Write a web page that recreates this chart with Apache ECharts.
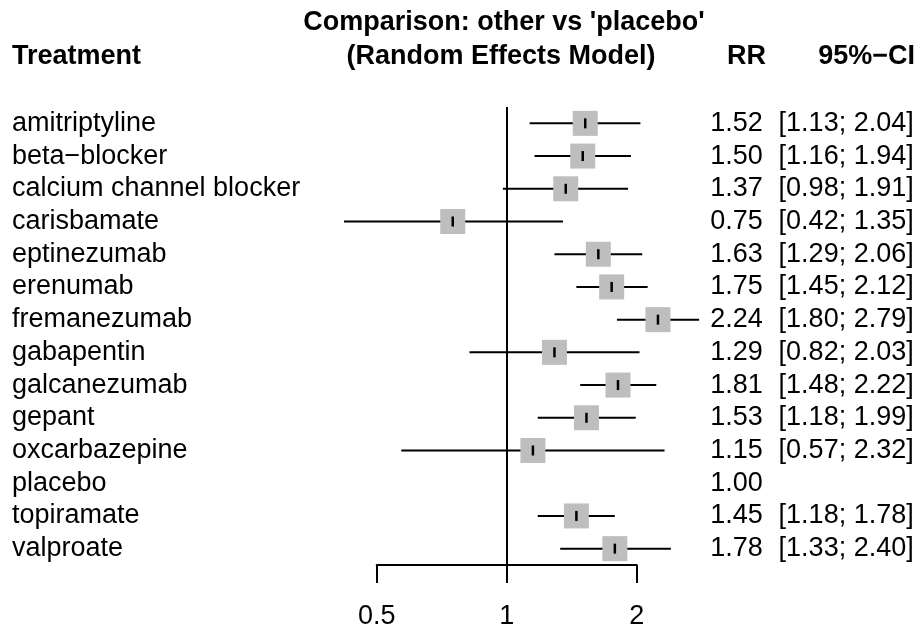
<!DOCTYPE html>
<html><head><meta charset="utf-8">
<script src="https://cdn.jsdelivr.net/npm/echarts@6/dist/echarts.min.js"></script>
<style>html,body{margin:0;padding:0;background:#fff}#c{width:919px;height:624px}</style>
</head><body><div id="c"></div>
<script>
const treatments = ['amitriptyline','beta\u2212blocker','calcium channel blocker','carisbamate','eptinezumab','erenumab','fremanezumab','gabapentin','galcanezumab','gepant','oxcarbazepine','placebo','topiramate','valproate'];
const rr    = [1.52, 1.50, 1.37, 0.75, 1.63, 1.75, 2.24, 1.29, 1.81, 1.53, 1.15, 1.00, 1.45, 1.78];
const lower = [1.13, 1.16, 0.98, 0.42, 1.29, 1.45, 1.80, 0.82, 1.48, 1.18, 0.57, null, 1.18, 1.33];
const upper = [2.04, 1.94, 1.91, 1.35, 2.06, 2.12, 2.79, 2.03, 2.22, 1.99, 2.32, null, 1.78, 2.40];
const xTicks = [0.5, 1, 2];
const refValue = 1;

const FONT = 'Liberation Sans, Arial, sans-serif';
const FS = 27;
const rrLabels = rr.map(v => v.toFixed(2));
const ciLabels = lower.map((l, i) => l == null ? '' : '[' + l.toFixed(2) + '; ' + upper[i].toFixed(2) + ']');
const seriesData = treatments.map((t, i) => [i, rr[i], lower[i] == null ? NaN : lower[i], upper[i] == null ? NaN : upper[i]]);

const chart = echarts.init(document.getElementById('c'), null, {renderer: 'canvas'});
const hdr = (text, x, y, align) => ({type: 'text', x: x, y: y, style: {text: text, fill: '#000', font: 'bold ' + FS + 'px ' + FONT, textAlign: align, textVerticalAlign: 'middle'}});
const catAxis = (data, pos, margin, align) => ({
  type: 'category', data: data, inverse: true, position: pos,
  axisLine: {show: false}, axisTick: {show: false}, splitLine: {show: false},
  axisLabel: {interval: 0, align: align, margin: margin, fontSize: FS, fontFamily: FONT, color: '#000'}
});
chart.setOption({
  animation: false,
  backgroundColor: '#fff',
  grid: {left: 376.7, right: 282.3, top: 107, bottom: 59, outerBoundsMode: 'none', containLabel: false},
  xAxis: {
    type: 'log', logBase: 2, min: 0.5, max: 2,
    axisLine: {show: true, lineStyle: {color: '#000', width: 2}},
    axisTick: {show: true, length: 18, customValues: xTicks, lineStyle: {color: '#000', width: 2}},
    axisLabel: {customValues: xTicks, margin: 38, fontSize: FS, fontFamily: FONT, color: '#000', formatter: v => String(+(+v).toFixed(2))},
    splitLine: {show: false}
  },
  yAxis: [
    catAxis(treatments, 'left', 364.7, 'left'),
    catAxis(rrLabels, 'right', 126, 'right'),
    catAxis(ciLabels, 'right', 277, 'right')
  ],
  graphic: [
    hdr("Comparison: other vs 'placebo'", 504, 23, 'center'),
    hdr('(Random Effects Model)', 501, 57, 'center'),
    hdr('Treatment', 12, 57, 'left'),
    hdr('RR', 766, 57, 'right'),
    hdr('95%\u2212CI', 915, 57, 'right')
  ],
  series: [{
    type: 'custom',
    clip: false,
    yAxisIndex: 0,
    data: seriesData,
    encode: {x: [1, 2, 3], y: 0},
    renderItem: function (params, api) {
      const idx = api.value(0);
      const lo = api.value(2), hi = api.value(3), est = api.value(1);
      const children = [];
      if (isNaN(lo) || isNaN(hi)) return {type: 'group', children: children};
      const p = api.coord([est, idx]);
      const xl = api.coord([lo, idx])[0];
      const xh = api.coord([hi, idx])[0];
      const y = p[1];
      children.push({type: 'line', shape: {x1: xl, y1: y, x2: xh, y2: y}, style: {stroke: '#000', lineWidth: 2}});
      const s = 25;
      children.push({type: 'rect', shape: {x: p[0] - s / 2, y: y - s / 2, width: s, height: s}, style: {fill: '#bebebe'}});
      children.push({type: 'line', shape: {x1: p[0], y1: y - 5, x2: p[0], y2: y + 5}, style: {stroke: '#000', lineWidth: 2.5}});
      return {type: 'group', children: children};
    },
    markLine: {
      silent: true, symbol: 'none', animation: false,
      label: {show: false},
      lineStyle: {color: '#000', width: 2, type: 'solid'},
      data: [{xAxis: refValue}]
    }
  }]
});
</script></body></html>
